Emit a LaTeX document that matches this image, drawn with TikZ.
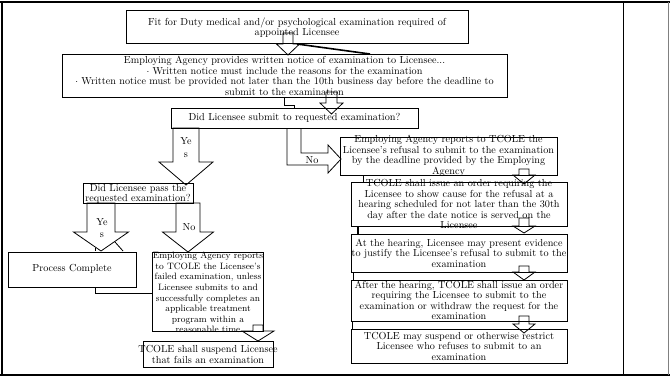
\documentclass[tikz,border=0pt]{standalone}
\tikzset{
  box/.style={draw=black, line width=0.8pt, inner sep=0pt, fill=none},
  txt/.style={inner sep=0pt, align=center, font=\fontsize{10.2}{10.5}\selectfont},
  txtc/.style={inner sep=0pt, align=center, font=\fontsize{9.2}{10.6}\selectfont},
  txtb/.style={inner sep=0pt, align=center, font=\fontsize{10.2}{11.5}\selectfont},
  blk/.style={draw=black, line width=0.8pt, line join=miter},
  frag/.style={draw=black, line width=0.8pt},
}
\newcommand\blkdown[6]{%
  \draw[blk] (#1-#2,#4) -- (#1-#2,#5) -- (#1-#3,#5) -- (#1,#6) -- (#1+#3,#5) -- (#1+#2,#5) -- (#1+#2,#4) -- cycle;}
\begin{document}
\begin{tikzpicture}[x=1pt,y=-1pt]
\useasboundingbox (0,0) rectangle (670,378);
% frame
\draw[line width=2.5pt] (0,2) -- (670,2);
\draw[line width=2.5pt] (2,2) -- (2,376);
\draw[line width=2.5pt] (0,375) -- (670,375);
\draw[line width=0.8pt] (623,2) -- (623,375);
\draw[line width=0.5pt, gray] (668.5,2) -- (668.5,375);
% boxes
\node[box, minimum width=342pt, minimum height=33pt] (b1) at (297,26.5) {};
\node[box, minimum width=445pt, minimum height=43pt] (b2) at (284.5,75.5) {};
\node[box, minimum width=247pt, minimum height=20pt] (b3) at (294.5,118) {};
\node[box, minimum width=110pt, minimum height=20pt] (bl) at (138,193) {};
\node[box, minimum width=128pt, minimum height=35pt] (bp) at (72,269.5) {};
\node[box, minimum width=111pt, minimum height=79pt] (bf) at (207.5,292) {};
\node[box, minimum width=130pt, minimum height=26pt] (bs) at (208,354) {};
\node[box, minimum width=217pt, minimum height=38pt] (r1) at (448.5,156) {};
\node[box, minimum width=216pt, minimum height=44pt] (r2) at (459,204) {};
\node[box, minimum width=216pt, minimum height=38pt] (r3) at (459,253) {};
\node[box, minimum width=216pt, minimum height=41pt] (r4) at (459,300.5) {};
\node[box, minimum width=216pt, minimum height=34pt] (r5) at (459,346) {};
% texts
\node[txt] (t1) at (297,27.5) {Fit for Duty medical and/or psychological examination required of\\appointed Licensee};
\node[txt] (t2) at (284.5,76) {Employing Agency provides written notice of examination to Licensee...\\
$\cdot$ Written notice must include the reasons for the examination\\
$\cdot$ Written notice must be provided not later than the 10th business day before the deadline to\\
submit to the examination};
\node[txt] (t3) at (294.5,118) {Did Licensee submit to requested examination?};
\node[txt] (tl) at (138,194) {Did Licensee pass the\\requested examination?};
\node[txt] (tp) at (72,269) {Process Complete};
\node[txtc] (tf) at (208,292.5) {Employing Agency reports\\to TCOLE the Licensee's\\failed examination, unless\\Licensee submits to and\\successfully completes an\\applicable treatment\\program within a\\reasonable time};
\node[txtb] (ts) at (208,354.5) {TCOLE shall suspend Licensee\\that fails an examination};
\node[txt] (tr1) at (448.5,156) {Employing Agency reports to TCOLE the\\Licensee's refusal to submit to the examination\\by the deadline provided by the Employing\\Agency};
\node[txt] (tr2) at (459,204) {TCOLE shall issue an order requiring the\\Licensee to show cause for the refusal at a\\hearing scheduled for not later than the 30th\\day after the date notice is served on the\\Licensee};
\node[txt] (tr3) at (459,253) {At the hearing, Licensee may present evidence\\to justify the Licensee's refusal to submit to the\\examination};
\node[txt] (tr4) at (459,300.5) {After the hearing, TCOLE shall issue an order\\requiring the Licensee to submit to the\\examination or withdraw the request for the\\examination};
\node[txt] (tr5) at (459,346) {TCOLE may suspend or otherwise restrict\\Licensee who refuses to submit to an\\examination};
% block arrows
\blkdown{288}{5}{11.5}{33}{44}{55}
\draw[line width=1.6pt] (297,44) -- (370,54);
\blkdown{331.5}{5.5}{11.5}{92}{103}{114}
\draw[frag] (284,97) -- (284,105) -- (294,105) -- (294,108);
% yes from b3
\blkdown{186}{13}{27}{128}{162}{185}
\node[txt] (ye1) at (186,141) {Ye};
\node[txt] (ye2) at (186,155) {s};
% no from b3 (elbow)
\draw[blk] (287,128) -- (287,165) -- (328,165) -- (328,173) -- (341,159) -- (328,145) -- (328,153) -- (301,153) -- (301,128);
\node[txt] (no1) at (312,160) {No};
% yes from bl
\blkdown{101}{14}{27.5}{203}{232}{251}
\node[txt] (ye3) at (102,222) {Ye};
\node[txt] (ye4) at (102,235) {s};
\draw[frag] (115,242) -- (123,251);
\draw[frag] (95,248) -- (95,251);
% no from bl
\blkdown{188}{12}{25.5}{203}{232}{252}
\node[txt] (no2) at (189,227) {No};
\draw[frag] (95,287) -- (95,293) -- (152,293);
% failed -> suspend
\blkdown{258}{5}{16}{325}{331}{341}
% right column arrows
\blkdown{524}{5}{11}{169}{175}{184}
\blkdown{524}{5}{11}{218}{226}{233}
\blkdown{524}{5}{11}{266}{272}{280}
\blkdown{524}{5}{11}{316}{324}{333}
\draw[frag] (363,175) -- (363,182);
\draw[line width=1.4pt] (358,226) -- (358,234);
\draw[frag] (353,272) -- (353,280);
\draw[frag] (352,321) -- (352,329);
\end{tikzpicture}
\end{document}
